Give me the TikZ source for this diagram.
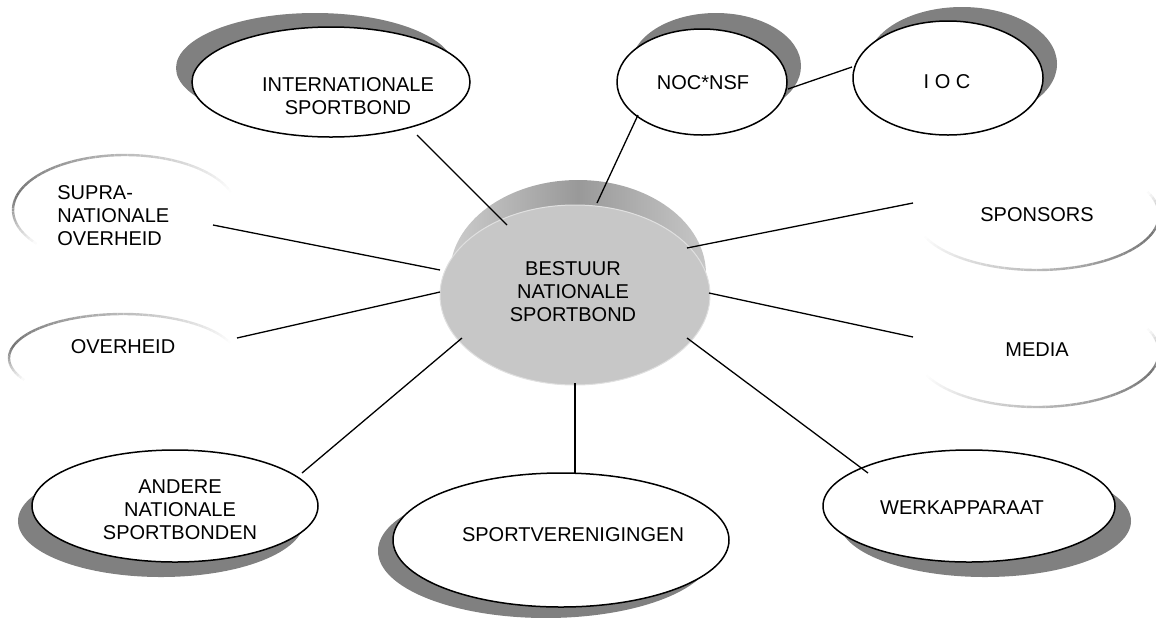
\documentclass[tikz,border=0pt]{standalone}
\usepackage{fontspec}
\setmainfont{Liberation Sans}
\usetikzlibrary{shapes.geometric,calc}
\newcommand\fadeell[8]{%
  \foreach \i in {0,...,59}{%
    \pgfmathsetmacro\aa{#5+(#7-#5)*\i/60}%
    \pgfmathsetmacro\ab{#5+(#7-#5)*(\i+1)/60}%
    \pgfmathsetmacro\tp{(#6-#5)/(#7-#5)}%
    \pgfmathsetmacro\tt{(\i+0.5)/60}%
    \pgfmathsetmacro\pp{\tt<\tp ? #8*\tt/\tp : #8*(1-\tt)/(1-\tp)}%
    \draw[black!\pp, line width=1.2pt] (#1,#2) ++(\aa:#3 and #4)
      arc[start angle=\aa, end angle=\ab, x radius=#3, y radius=#4];
  }}
\begin{document}
\begin{tikzpicture}[x=0.5pt,y=-0.5pt,
  sz/.style 2 args={minimum width=#1pt, minimum height=#2pt},
  lbl/.style={font=\fontsize{10}{11.5}\selectfont, align=center, inner sep=0pt},
  bub/.style={ellipse, draw=black, line width=0.75pt, fill=white, inner sep=0pt},
  shd/.style={ellipse, fill=black!50, draw=none, inner sep=0pt},
  ghost/.style={ellipse, draw=none, inner sep=0pt},
  conn/.style={draw=black, line width=0.65pt}]
\useasboundingbox (0,0) rectangle (1156,617);
\clip (0,0) rectangle (1156,617);

% shadows
\node[shd, sz={139}{55}] (intls) at (315,68) {};
\node[shd, sz={85}{53}] (nocs) at (716,66) {};
\node[shd, sz={95}{57}] (iocs) at (962,64) {};
\node[shd, sz={143}{56}] (ands) at (161,521) {};
\node[shd, sz={168}{67}] (svs) at (546,551) {};
\node[shd, sz={146}{56}] (wks) at (985,521) {};

% bubbles
\node[bub, sz={139}{55}] (intl) at (331,82) {};
\node[bub, sz={85}{53}] (noc) at (702,82) {};
\node[bub, sz={95}{57}] (ioc) at (948,78) {};
\node[bub, sz={143}{56}] (and) at (175,506) {};
\node[bub, sz={168}{67}] (sv) at (561,540) {};
\node[bub, sz={146}{56}] (wk) at (969,506) {};

% faded bubbles
\node[ghost, sz={112}{55}] (su) at (125,210) {};
\node[ghost, sz={114}{44}] (ov) at (123,358) {};
\node[ghost, sz={122}{55}] (sp) at (1037,215) {};
\node[ghost, sz={122}{55}] (md) at (1037,352) {};
\fadeell{125}{210}{112}{55}{142}{195}{341}{55}
\fadeell{123}{358}{114}{44}{150}{195}{340}{55}
\fadeell{1037}{215}{122}{55}{157}{20}{-25}{55}
\fadeell{1037}{352}{122}{55}{155}{20}{-25}{55}

% central disc
\shade[left color=black!20, right color=black!22, middle color=black!40]
  (578,274) ellipse[x radius=128, y radius=94];
\node[ellipse, fill=black!22, draw=black!12, line width=0.5pt, inner sep=0pt,
  sz={135}{90}] (c) at (575,295) {};

% connectors
\draw[conn] ($(intl.center)+(86,53)$) -- ($(c.center)+(-68,-70)$);
\draw[conn] ($(noc.center)+(-64,33)$) -- ($(c.center)+(22,-92)$);
\draw[conn] ($(noc.center)+(86,7)$) -- ($(ioc.center)+(-96,-11)$);
\draw[conn] ($(su.center)+(88,15)$) -- ($(c.center)+(-135,-25)$);
\draw[conn] ($(ov.center)+(114,-20)$) -- ($(c.center)+(-135,-3)$);
\draw[conn] ($(sp.center)+(-124,-12)$) -- ($(c.center)+(112,-47)$);
\draw[conn] ($(md.center)+(-124,-15)$) -- ($(c.center)+(134,-2)$);
\draw[conn] ($(and.center)+(127,-33)$) -- ($(c.center)+(-113,43)$);
\draw[conn] ($(sv.center)+(14,-67)$) -- ($(c.center)+(0,88)$);
\draw[conn] ($(wk.center)+(-101,-33)$) -- ($(c.center)+(112,43)$);

% labels
\node[lbl] (tc) at (573,292) {BESTUUR\\NATIONALE\\SPORTBOND};
\node[lbl] (tintl) at (348,96) {INTERNATIONALE\\SPORTBOND};
\node[lbl] (tnoc) at (703,83) {NOC*NSF};
\node[lbl] (tioc) at (947,82) {I O C};
\node[lbl, align=left, anchor=west] (tsu) at (57,216) {SUPRA-\\NATIONALE\\OVERHEID};
\node[lbl] (tov) at (123,347) {OVERHEID};
\node[lbl] (tsp) at (1037,215) {SPONSORS};
\node[lbl] (tmd) at (1037,350) {MEDIA};
\node[lbl] (tand) at (180,510) {ANDERE\\NATIONALE\\SPORTBONDEN};
\node[lbl] (tsv) at (573,535) {SPORTVERENIGINGEN};
\node[lbl] (twk) at (962,508) {WERKAPPARAAT};
\end{tikzpicture}
\end{document}
